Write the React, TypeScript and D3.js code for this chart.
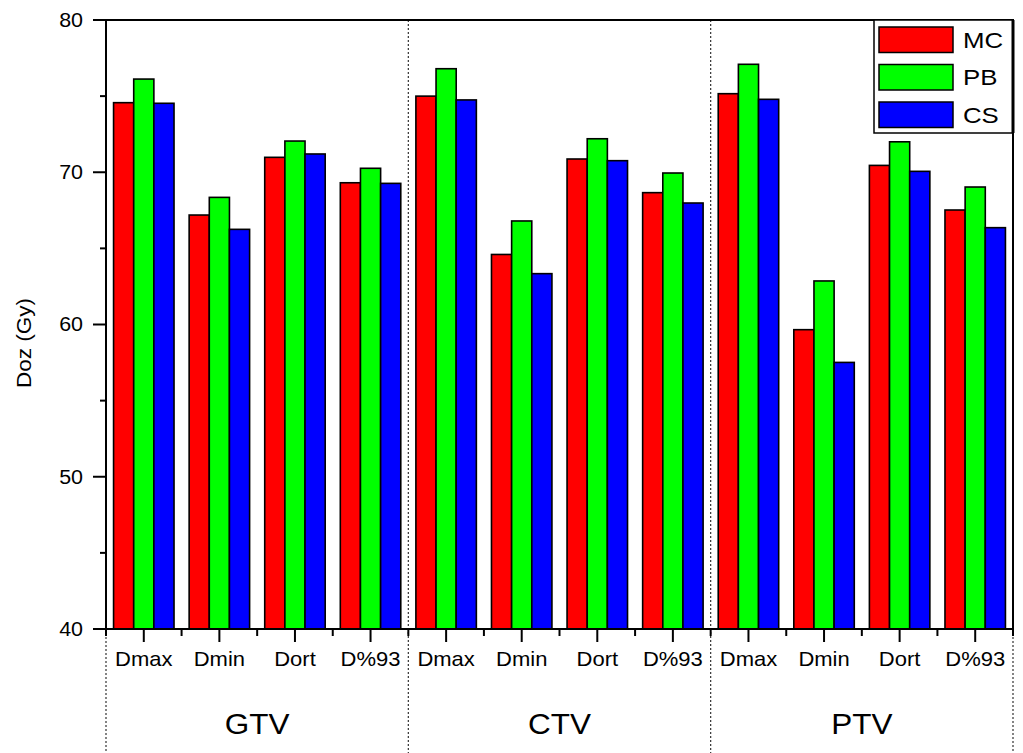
import { useRef, useEffect } from 'react';
import * as d3 from 'd3';

const groups = ['GTV', 'CTV', 'PTV'];
const metrics = ['Dmax', 'Dmin', 'Dort', 'D%93'];
const seriesNames = ['MC', 'PB', 'CS'];
const seriesColors = ['#ff0000', '#00ff00', '#0000ff'];

// values per group, in metric order
const mcValues = [74.57, 67.19, 70.98, 69.31, 75.0, 64.6, 70.87, 68.66, 75.16, 59.66, 70.45, 67.52];
const pbValues = [76.12, 68.35, 72.05, 70.26, 76.8, 66.8, 72.2, 69.95, 77.09, 62.86, 72.0, 69.03];
const csValues = [74.53, 66.25, 71.2, 69.27, 74.75, 63.34, 70.76, 67.98, 74.79, 57.51, 70.06, 66.36];

const yTicks = [40, 50, 60, 70, 80];
const yMinorTicks = [45, 55, 65, 75];

const W = 1023;
const H = 753;
const left = 106;
const right = 1013;
const top = 20;
const bottom = 629;

export default function App() {
  const svgRef = useRef<SVGSVGElement>(null);

  useEffect(() => {
    if (!svgRef.current) return;
    const svg = d3.select(svgRef.current);
    svg.selectAll('*').remove();

    const cats = groups.flatMap(g => metrics.map(m => `${g}|${m}`));
    const x = d3.scaleBand<string>().domain(cats).range([left, right]).paddingInner(0.2).paddingOuter(0.1);
    const step = x.step();
    const xs = d3.scaleBand<string>().domain(seriesNames).range([0, x.bandwidth()]);
    const y = d3.scaleLinear().domain([40, 80]).range([bottom, top]);
    const gx = d3.scaleBand<string>().domain(groups).range([left, right]);

    const font = 'Arial, "Liberation Sans", sans-serif';
    const series = [mcValues, pbValues, csValues];

    // the original text is a little wider than plain Arial
    const stretch = (px: number, py: number, sx: number) => `translate(${px},${py}) scale(${sx},1)`;

    // bars
    series.forEach((vals, si) => {
      svg.append('g')
        .selectAll('rect')
        .data(vals)
        .enter()
        .append('rect')
        .attr('x', (_, i) => (x(cats[i]) as number) + (xs(seriesNames[si]) as number))
        .attr('y', d => y(d))
        .attr('width', xs.bandwidth())
        .attr('height', d => y(40) - y(d))
        .attr('fill', seriesColors[si])
        .attr('stroke', '#000')
        .attr('stroke-width', 1.6);
    });

    // dotted group separators
    const sepXs = d3.range(groups.length + 1).map(i => left + i * gx.step());
    svg.append('g')
      .selectAll('line')
      .data(sepXs)
      .enter()
      .append('line')
      .attr('x1', d => d)
      .attr('x2', d => d)
      .attr('y1', (_, i) => (i === 0 || i === groups.length ? bottom : top))
      .attr('y2', H)
      .attr('stroke', '#333')
      .attr('stroke-width', 1.2)
      .attr('stroke-dasharray', '2,2');

    // frame
    svg.append('rect')
      .attr('x', left).attr('y', top)
      .attr('width', right - left).attr('height', bottom - top)
      .attr('fill', 'none').attr('stroke', '#000').attr('stroke-width', 2);

    // y ticks
    const yAxis = svg.append('g');
    yAxis.selectAll('line.major').data(yTicks).enter().append('line')
      .attr('x1', left - 13).attr('x2', left)
      .attr('y1', d => y(d)).attr('y2', d => y(d))
      .attr('stroke', '#000').attr('stroke-width', 2);
    yAxis.selectAll('line.minor').data(yMinorTicks).enter().append('line')
      .attr('x1', left - 6).attr('x2', left)
      .attr('y1', d => y(d)).attr('y2', d => y(d))
      .attr('stroke', '#000').attr('stroke-width', 2);
    yAxis.selectAll('text').data(yTicks).enter().append('text')
      .attr('transform', d => stretch(83, y(d), 1.1))
      .attr('dy', '0.35em')
      .attr('text-anchor', 'end')
      .style('font-family', font).style('font-size', '19.5px')
      .text(d => d);

    svg.append('text')
      .attr('transform', `translate(31, 343) rotate(-90) scale(1.1,1)`)
      .attr('text-anchor', 'middle')
      .style('font-family', font).style('font-size', '20.5px')
      .text('Doz (Gy)');

    // x ticks
    const xAxis = svg.append('g');
    xAxis.selectAll('line.major').data(cats).enter().append('line')
      .attr('x1', d => (x(d) as number) + x.bandwidth() / 2)
      .attr('x2', d => (x(d) as number) + x.bandwidth() / 2)
      .attr('y1', bottom).attr('y2', bottom + 13)
      .attr('stroke', '#000').attr('stroke-width', 2);
    xAxis.selectAll('line.minor').data(d3.range(cats.length + 1)).enter().append('line')
      .attr('x1', i => left + i * step).attr('x2', i => left + i * step)
      .attr('y1', bottom).attr('y2', bottom + 7)
      .attr('stroke', '#000').attr('stroke-width', 2);
    xAxis.selectAll('text').data(cats).enter().append('text')
      .attr('transform', d => stretch((x(d) as number) + x.bandwidth() / 2, 666, 1.1))
      .attr('text-anchor', 'middle')
      .style('font-family', font).style('font-size', '20px')
      .text(d => d.split('|')[1]);

    svg.append('g').selectAll('text').data(groups).enter().append('text')
      .attr('transform', d => stretch((gx(d) as number) + gx.bandwidth() / 2, 734, 1.05))
      .attr('text-anchor', 'middle')
      .style('font-family', font).style('font-size', '30px')
      .text(d => d);

    // legend
    const lg = svg.append('g');
    lg.append('rect')
      .attr('x', 874).attr('y', top)
      .attr('width', right - 874).attr('height', 113)
      .attr('fill', '#fff').attr('stroke', '#000').attr('stroke-width', 1.5);
    seriesNames.forEach((name, i) => {
      const yy = 27 + i * 37.5;
      lg.append('rect')
        .attr('x', 879).attr('y', yy)
        .attr('width', 74).attr('height', 25.5)
        .attr('fill', seriesColors[i]).attr('stroke', '#000').attr('stroke-width', 1.5);
      lg.append('text')
        .attr('transform', stretch(963, yy + 12.75 + 8, 1.2))
        .style('font-family', font).style('font-size', '21.5px')
        .text(name);
    });
    svg.append('line')
      .attr('x1', right).attr('x2', right).attr('y1', top).attr('y2', top + 113)
      .attr('stroke', '#000').attr('stroke-width', 3);
  }, []);

  return (
    <svg
      ref={svgRef}
      width={W}
      height={H}
      style={{ position: 'fixed', left: 0, top: 0, background: '#fff' }}
    />
  );
}
